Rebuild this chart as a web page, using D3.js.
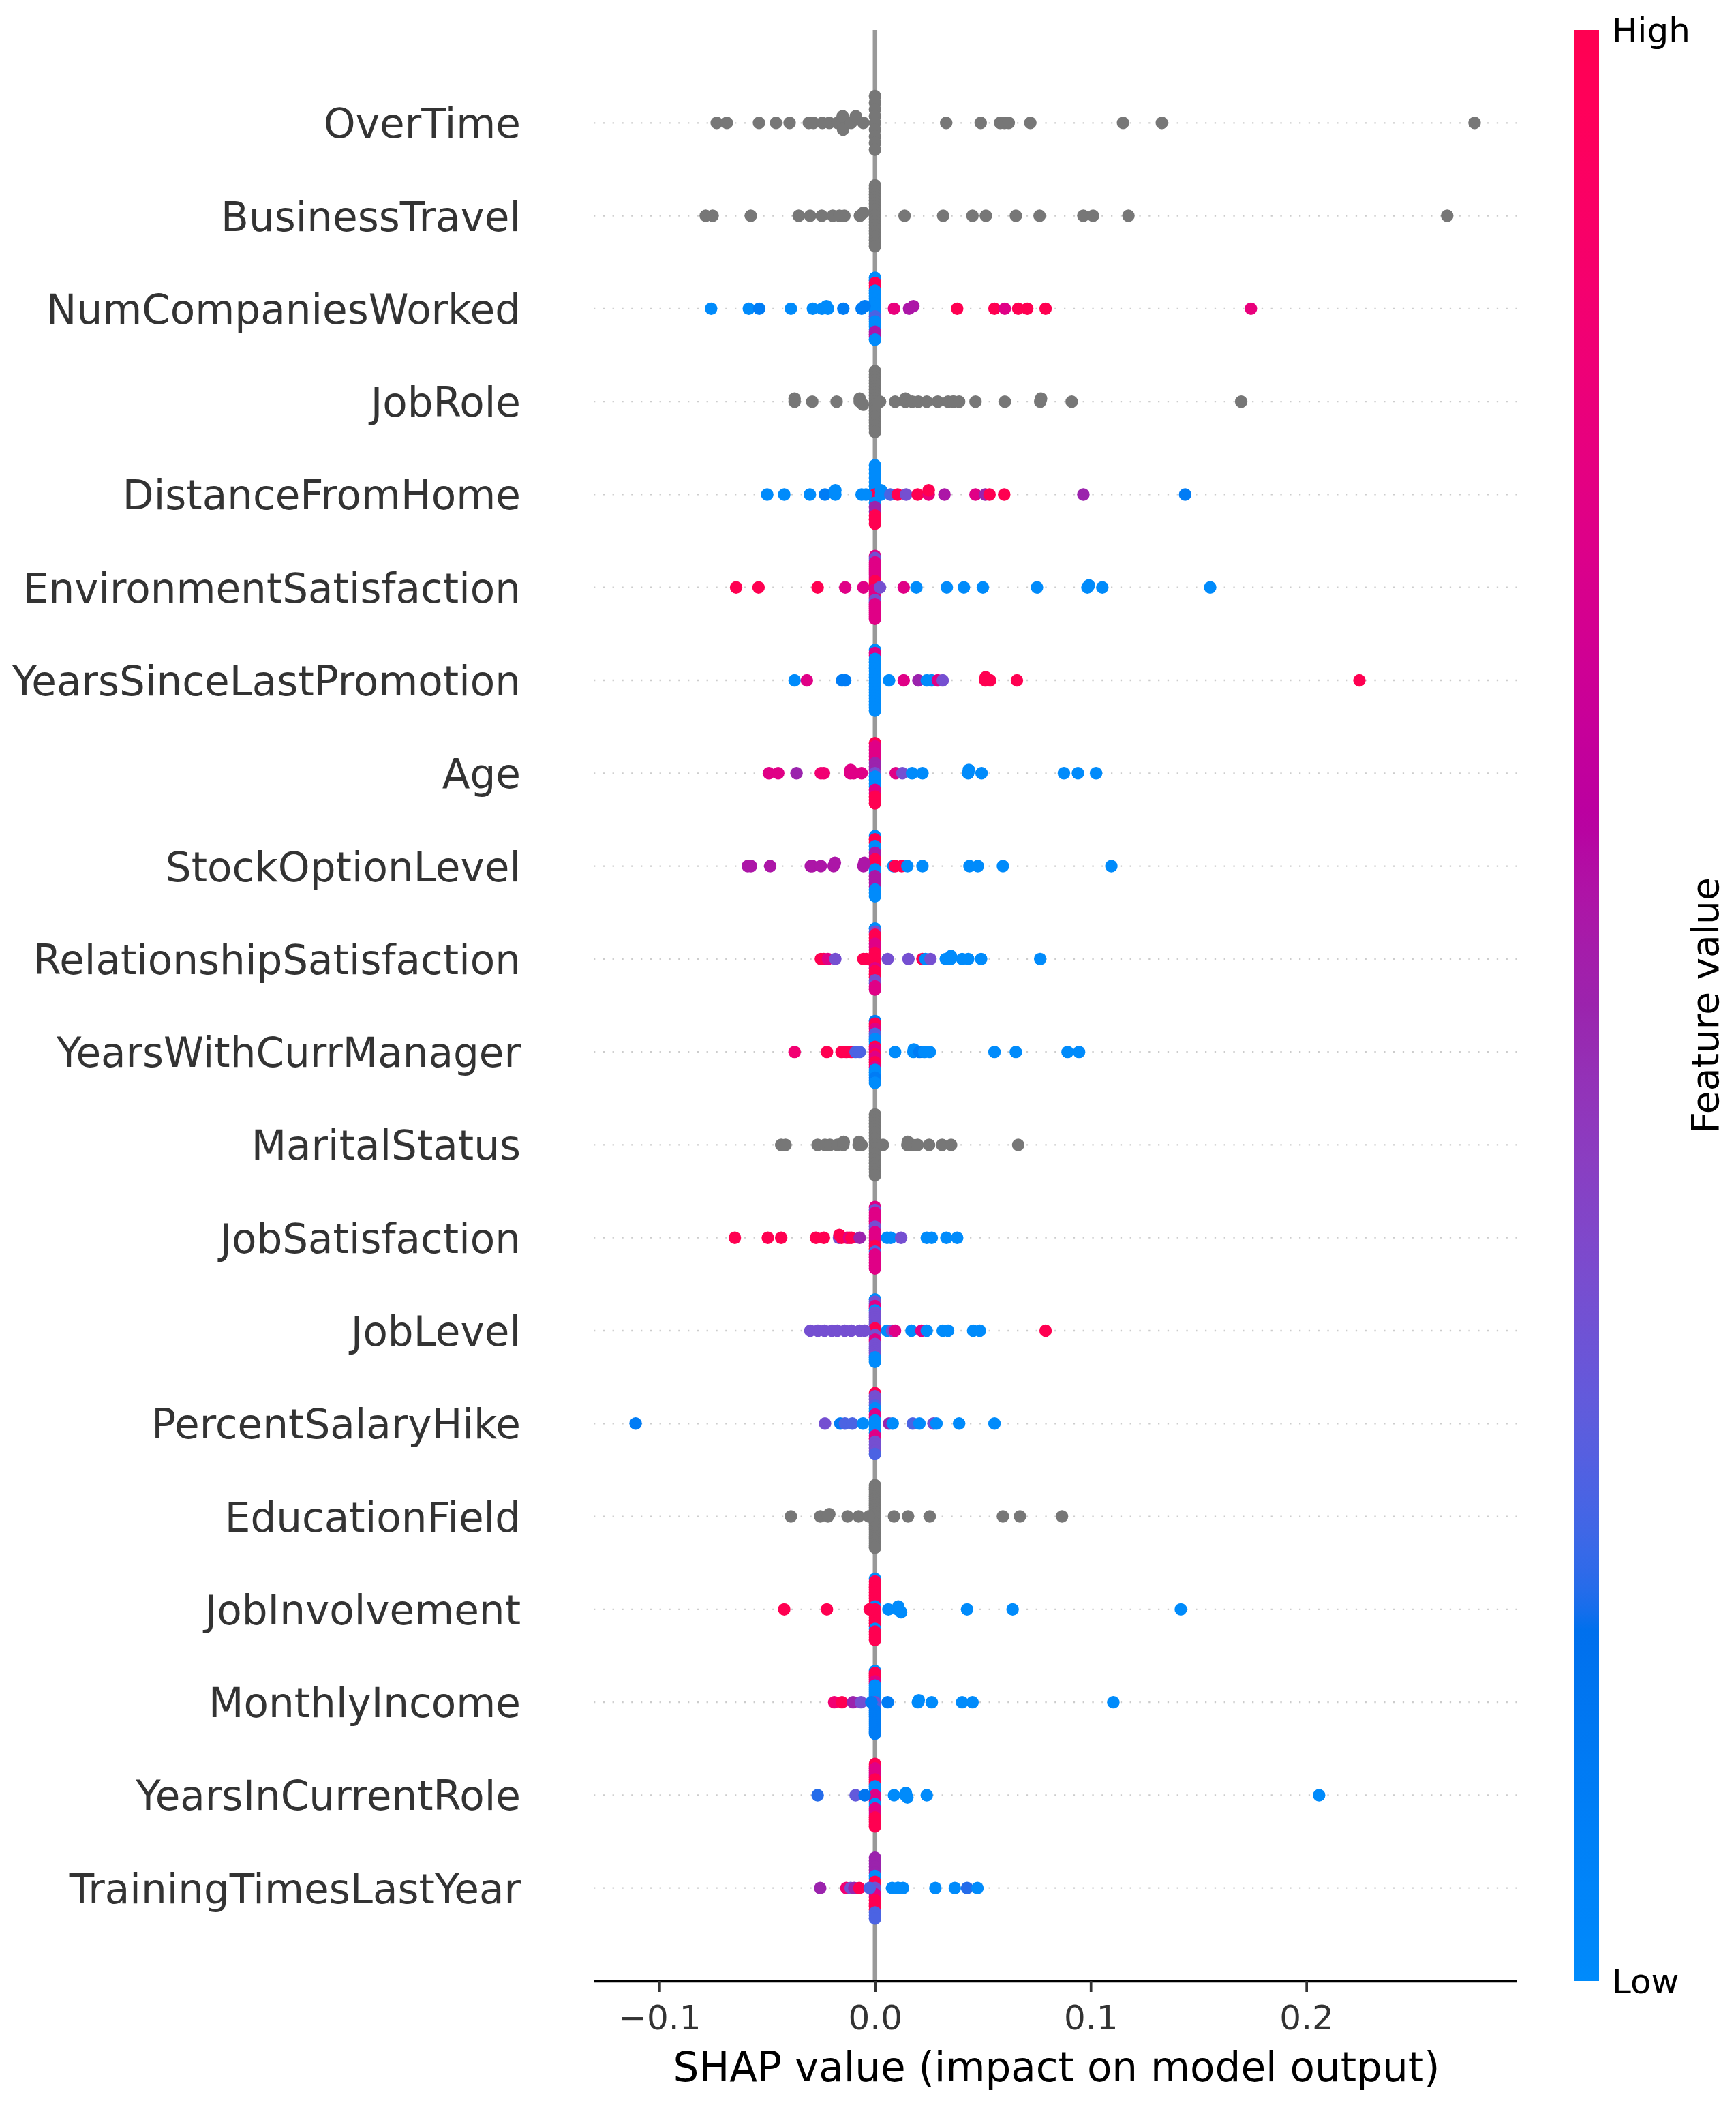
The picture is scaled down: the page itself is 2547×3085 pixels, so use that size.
<!DOCTYPE html>
<html><head><meta charset="utf-8">
<script src="https://cdn.jsdelivr.net/npm/d3@7"></script>
<style>html,body{margin:0;padding:0;background:#fff;} svg{display:block;}</style>
</head><body>
<svg id="chart" width="2547" height="3085"></svg>
<script>
// ---------------- DATA ----------------
const featureNames = ["OverTime","BusinessTravel","NumCompaniesWorked","JobRole","DistanceFromHome",
  "EnvironmentSatisfaction","YearsSinceLastPromotion","Age","StockOptionLevel","RelationshipSatisfaction",
  "YearsWithCurrManager","MaritalStatus","JobSatisfaction","JobLevel","PercentSalaryHike",
  "EducationField","JobInvolvement","MonthlyIncome","YearsInCurrentRole","TrainingTimesLastYear"];

// SHAP values of the points away from zero (per feature, top to bottom)
const shapValues = [
  [-0.0734,-0.0687,-0.0538,-0.0459,-0.0396,-0.0307,-0.0285,-0.0244,-0.0212,-0.0174,-0.0149,-0.0150,-0.0148,-0.0111,-0.0089,-0.0054,0.033,0.049,0.058,0.060,0.062,0.072,0.115,0.133,0.278],
  [-0.0785,-0.0753,-0.0576,-0.0354,-0.0301,-0.0247,-0.0196,-0.0165,-0.0142,-0.0070,-0.0054,0.0137,0.0316,0.0452,0.0514,0.0653,0.0763,0.0966,0.1011,0.1175,0.2653],
  [-0.0760,-0.0585,-0.0537,-0.0390,-0.0288,-0.0246,-0.0225,-0.0218,-0.0147,-0.0062,-0.0048,0.0088,0.0158,0.0178,0.0381,0.0554,0.0602,0.0664,0.0706,0.0791,0.1743],
  [-0.0373,-0.0373,-0.0291,-0.0178,-0.0071,-0.0071,-0.0056,0.0023,0.0093,0.0141,0.0141,0.0172,0.0201,0.0240,0.0291,0.0339,0.0362,0.0365,0.0390,0.0466,0.0602,0.0766,0.0770,0.0912,0.1698],
  [-0.0500,-0.0421,-0.0302,-0.0232,-0.0184,-0.0184,-0.0062,-0.0042,0.0028,0.0028,0.0071,0.0105,0.0144,0.0198,0.0249,0.0249,0.0322,0.0466,0.0511,0.0531,0.0599,0.0966,0.1438],
  [-0.0644,-0.0540,-0.0266,-0.0138,-0.0054,0.0023,0.0133,0.0192,0.0333,0.0412,0.0500,0.0751,0.0985,0.0992,0.1054,0.1554],
  [-0.0373,-0.0316,-0.0153,-0.0138,0.0065,0.0133,0.0201,0.0240,0.0263,0.0291,0.0314,0.0511,0.0513,0.0534,0.0658,0.2246],
  [-0.0492,-0.0449,-0.0364,-0.0251,-0.0237,-0.0115,-0.0113,-0.0099,-0.0062,0.0096,0.0127,0.0172,0.0220,0.0432,0.0435,0.0494,0.0876,0.0941,0.1025],
  [-0.0590,-0.0575,-0.0486,-0.0298,-0.0290,-0.0251,-0.0192,-0.0186,-0.0054,-0.0050,0.0085,0.0093,0.0124,0.0150,0.0220,0.0438,0.0477,0.0593,0.1096],
  [-0.0251,-0.0237,-0.0218,-0.0184,-0.0054,-0.0040,0.0059,0.0155,0.0220,0.0234,0.0257,0.0328,0.0350,0.0352,0.0404,0.0432,0.0492,0.0766],
  [-0.0373,-0.0223,-0.0155,-0.0133,-0.0110,-0.0090,-0.0071,0.0093,0.0178,0.0180,0.0206,0.0229,0.0254,0.0554,0.0653,0.0893,0.0946],
  [-0.0435,-0.0415,-0.0266,-0.0232,-0.0209,-0.0175,-0.0147,-0.0145,-0.0076,-0.0074,-0.0062,0.0037,0.0150,0.0152,0.0172,0.0198,0.0251,0.0311,0.0353,0.0664],
  [-0.0650,-0.0497,-0.0435,-0.0274,-0.0237,-0.0167,-0.0165,-0.0155,-0.0130,-0.0120,-0.0110,-0.0071,0.0056,0.0073,0.0121,0.0240,0.0263,0.0331,0.0381],
  [-0.0300,-0.0265,-0.0234,-0.0200,-0.0175,-0.0140,-0.0110,-0.0071,-0.0048,0.0056,0.0079,0.0093,0.0169,0.0215,0.0240,0.0314,0.0339,0.0455,0.0486,0.0791],
  [-0.1110,-0.0232,-0.0161,-0.0139,-0.0105,-0.0056,0.0065,0.0082,0.0175,0.0206,0.0271,0.0285,0.0390,0.0554],
  [-0.0390,-0.0254,-0.0218,-0.0212,-0.0127,-0.0076,-0.0028,0.0088,0.0153,0.0254,0.0593,0.0672,0.0867],
  [-0.0421,-0.0223,-0.0025,0.0062,0.0105,0.0108,0.0121,0.0427,0.0638,0.1418],
  [-0.0189,-0.0153,-0.0102,-0.0065,-0.0017,0.0059,0.0199,0.0203,0.0263,0.0404,0.0452,0.1105],
  [-0.0266,-0.0090,-0.0048,0.0088,0.0141,0.0143,0.0150,0.0240,0.2059],
  [-0.0254,-0.0133,-0.0113,-0.0096,-0.0073,-0.0025,0.0079,0.0105,0.0108,0.0130,0.0280,0.0370,0.0427,0.0475]
];

// normalised feature values (0 = low / blue, 1 = high / red); null = non-numeric (grey)
const featureValues = [
  null,
  null,
  [0,0,0.1,0,0,0,0,0,0.1,0.1,0.1,0.8,0.55,0.55,1,1,0.75,1,1,1,0.8],
  null,
  [0,0,0,0.1,0,0,0,0,0,0,0.25,1,0.35,1,0.8,1,0.55,0.75,0.5,1,1,0.5,0.1],
  [1,1,1,0.75,0.75,0.35,0.75,0,0,0,0,0,0,0,0,0],
  [0,0.75,0.1,0.1,0,0.75,0.5,0,0,0.75,0.35,1,1,1,1,1],
  [0.75,0.75,0.5,0.85,0.85,0.75,0.75,0.75,0.75,0.75,0.35,0,0,0,0,0,0,0,0],
  [0.55,0.55,0.55,0.55,0.55,0.55,0.55,0.55,0.55,0.55,0,1,1,0,0,0,0,0,0],
  [1,1,0.75,0.35,1,1,0.35,0.35,1,0,0.35,0,0,0,0,0,0,0],
  [0.85,1,1,1,1,0.25,0.25,0,0,0,0.1,0,0,0,0,0,0],
  null,
  [1,1,1,1,1,0.35,1,1,1,0.75,1,0.5,0,0,0.35,0,0,0,0],
  [0.35,0.35,0.35,0.35,0.35,0.35,0.35,0.35,0.35,0,0.35,0.75,0,0.75,0,0,0,0,0,1],
  [0.1,0.35,0.1,0.25,0.25,0,0.5,0,0.25,0,0.35,0,0,0],
  null,
  [1,1,1,0,0,0,0,0,0,0],
  [0.85,1,0.5,0.35,0.1,0.1,0,0,0,0,0,0],
  [0.2,0.3,0.15,0,0,0,0,0,0],
  [0.5,0.85,0.35,0.5,1,0.25,0,0,0,0,0,0,0.2,0]
];

// number of samples whose SHAP value is exactly zero (the stack on the zero line)
const zeroCounts = [9,21,25,21,15,31,21,19,19,21,25,21,23,29,21,29,23,31,29,21];

// feature values of the zero-SHAP stack, listed top to bottom (null = grey feature)
const zeroStackValues = [
  null,
  null,
  [0,0,1,1,1,0,0,0,0,0,0,0,0,0,0,0.25,0.25,0,0,0,0,0.55,0.55,0.55,0],
  null,
  [0,0,0,0,0,0,0,1,1,0,0.5,0.5,1,1,1],
  [0.75,0.35,0.35,0.75,0.75,0.75,0.75,0.75,0.75,0.75,0.75,0.75,1,1,1,1,0.75,0.75,0.75,0.75,0.75,0.35,0.35,0.75,0.75,0.75,0.75,0.75,0.75,0.75,0.75],
  [0,0.75,0.75,0,0,0,0,0,0,0,0,0,0,0,0,0,0,0,0,0,0],
  [1,0.75,0.75,0.75,0.75,0.75,0.5,0.5,0.5,0.35,0,0,0,0,0.75,0.75,1,1,1],
  [0,1,1,0,0,0.55,0.55,1,1,1,0,0,0.55,0.55,0.55,0.55,0,0,0],
  [0,0.35,1,1,1,0.75,0.75,0.75,1,1,1,1,1,0.75,1,1,1,0.35,0.35,0.75,0.75],
  [0.1,1,1,0.75,0.75,0.25,0.25,0,0,0,1,0.75,0.75,1,0.75,0.75,1,1,0.75,0,0,0,0.1,0.1,0],
  null,
  [0.75,0.35,0.75,0.75,0.75,0.75,0.75,0.35,0.35,0.75,0.75,0.75,0.75,0.75,1,1,0.25,0.75,0.75,0.75,0.75,0.75,0.75],
  [0,0.35,0.35,0.75,0.75,0,0.35,0.35,0.35,0.35,0.35,0.35,0.35,1,1,1,0.35,0.35,0.75,0.75,0.35,0.35,0.35,0.35,0.35,0.35,0,0,0],
  [1,0.35,0.35,0.35,0.25,0,0,0.75,0.75,0,0,0,0,0,0.75,0.75,0.35,0.35,0.35,0.35,0.25],
  null,
  [0,1,1,1,1,1,1,1,1,1,0,1,1,1,1,1,1,1,0,1,1,1,1],
  [0,1,1,1,1,0.75,0.75,0,0,0,0,0,0,0,0,0.35,0.35,0.25,0.25,0.1,0.1,0.1,0.1,0.1,0.1,0.1,0.1,0.1,0.1,0.1,0.1],
  [1,1,0.75,0.75,0.75,0.75,0.75,1,1,1,0,0,0,0,0.75,0.75,0.75,0.75,0,0,0.75,0.75,0.75,0.75,1,1,1,1,1],
  [0.5,0.5,0.5,0.5,0.5,0.5,0,0,1,1,0.35,0.35,0.75,0.75,1,1,1,1,0.25,0.25,0.25]
];

const xTicks = [-0.1, 0.0, 0.1, 0.2];
const colorbarTickLabels = ["Low", "High"];
const xLabelText = "SHAP value (impact on model output)";
const colorbarTitle = "Feature value";

// ---------------- LAYOUT ----------------
const FONT = "DejaVu Sans";
const plotL = 871, plotR = 2225, plotT = 44, plotB = 2906;
const dotR = 9.2;
const svg = d3.select("#chart");

const allShap = shapValues.flat().concat([0]);
const [mn, mx] = d3.extent(allShap);
const padX = (mx - mn) * 0.05;
const x = d3.scaleLinear().domain([mn - padX, mx + padX]).range([plotL, plotR]);
const nF = featureNames.length;
const y = d3.scaleLinear().domain([-1, nF]).range([plotB, plotT]);

// shap red_blue colormap (LCH interpolation, D65)
function shapColor(t) {
  const L = t < 0.5 ? 54 + (40 - 54) * (t / 0.5) : 40 + (54 - 40) * ((t - 0.5) / 0.5);
  const C = 70 + (90 - 70) * t;
  const h = 4.6588 + ((0.35470565 + 2 * Math.PI) - 4.6588) * t;
  const a = C * Math.cos(h), b = C * Math.sin(h);
  const fy = (L + 16) / 116, fx = fy + a / 500, fz = fy - b / 200;
  const finv = v => v > 0.206893 ? v * v * v : (v - 16 / 116) / 7.787;
  const X = 0.95047 * finv(fx), Y = finv(fy), Z = 1.08883 * finv(fz);
  let r = 3.2404542 * X - 1.5371385 * Y - 0.4985314 * Z;
  let g = -0.9692660 * X + 1.8760108 * Y + 0.0415560 * Z;
  let bb = 0.0556434 * X - 0.2040259 * Y + 1.0572252 * Z;
  const gam = v => { v = v > 0.0031308 ? 1.055 * Math.pow(v, 1 / 2.4) - 0.055 : 12.92 * v; return Math.max(0, Math.min(1, v)); };
  return d3.rgb(gam(r) * 255, gam(g) * 255, gam(bb) * 255).formatHex();
}

// background guide lines
const gGuides = svg.append("g");
featureNames.forEach((name, i) => {
  const pos = nF - 1 - i;
  gGuides.append("line")
    .attr("x1", plotL).attr("x2", plotR)
    .attr("y1", y(pos)).attr("y2", y(pos))
    .attr("stroke", "#cccccc").attr("stroke-width", 2.3)
    .attr("stroke-dasharray", "2.3 11.5");
});
gGuides.append("line")
  .attr("x1", x(0)).attr("x2", x(0))
  .attr("y1", plotT).attr("y2", plotB)
  .attr("stroke", "#999999").attr("stroke-width", 6.5);

// beeswarm (shap algorithm, deterministic order)
function swarm(vals) {
  const N = vals.length;
  const lo = d3.min(vals), hi = d3.max(vals);
  const quant = vals.map(v => Math.round(100 * (v - lo) / (hi - lo + 1e-8)));
  const inds = d3.range(N).sort((a, b) => (quant[a] - quant[b]) || (a - b));
  const ys = new Array(N).fill(0);
  let layer = 0, last = -1;
  for (const ind of inds) {
    if (quant[ind] !== last) layer = 0;
    ys[ind] = Math.ceil(layer / 2) * ((layer % 2) * 2 - 1);
    layer += 1; last = quant[ind];
  }
  const m = d3.max(ys.map(v => v + 1));
  return ys.map(v => v * 0.9 * 0.4 / m);
}

const gDots = svg.append("g");
featureNames.forEach((name, i) => {
  const pos = nF - 1 - i;
  const stack = zeroStackValues[i];
  const n = stack ? stack.length : zeroCounts[i];
  const k = (n - 1) / 2;
  const pts = [];
  for (let j = 0; j < n; j++) {
    const ysj = Math.ceil(j / 2) * ((j % 2) * 2 - 1);
    const idx = k - ysj;
    pts.push({ s: 0, fv: stack ? stack[idx] : null, order: idx });
  }
  const fvs = featureValues[i];
  shapValues[i].forEach((s, m) => pts.push({ s: s, fv: fvs ? fvs[m] : null, order: n + m }));
  const ys = swarm(pts.map(p => p.s));
  pts.forEach((p, j) => p.dy = ys[j]);
  pts.sort((a, b) => a.order - b.order);
  gDots.selectAll(null).data(pts).enter().append("circle")
    .attr("cx", d => x(d.s))
    .attr("cy", d => y(pos + d.dy))
    .attr("r", dotR)
    .attr("fill", d => d.fv === null ? "#777777" : shapColor(d.fv));
});

// feature names
const gNames = svg.append("g");
featureNames.forEach((name, i) => {
  const pos = nF - 1 - i;
  gNames.append("text")
    .attr("x", 764).attr("y", y(pos) + 22)
    .attr("text-anchor", "end")
    .attr("font-family", FONT).attr("font-size", 59.6)
    .attr("fill", "#333333")
    .text(name);
});

// x axis
const xAxis = d3.axisBottom(x).tickValues(xTicks).tickFormat(d3.format(".1f"))
  .tickSize(16).tickSizeOuter(0).tickPadding(19);
const gAx = svg.append("g").attr("transform", `translate(0,${plotB})`).call(xAxis);
gAx.attr("font-family", FONT).attr("font-size", 50);
gAx.select(".domain").attr("stroke", "#000").attr("stroke-width", 3.7);
gAx.selectAll(".tick line").attr("stroke", "#333333").attr("stroke-width", 3.7);
gAx.selectAll(".tick text").attr("fill", "#333333");

svg.append("text")
  .attr("x", (plotL + plotR) / 2 + 2).attr("y", 3053)
  .attr("text-anchor", "middle")
  .attr("font-family", FONT).attr("font-size", 59.6).attr("fill", "#000")
  .text(xLabelText);

// colorbar
const defs = svg.append("defs");
const grad = defs.append("linearGradient").attr("id", "cbGrad")
  .attr("x1", 0).attr("y1", 1).attr("x2", 0).attr("y2", 0);
d3.range(0, 101).forEach(s => {
  grad.append("stop").attr("offset", (s / 100)).attr("stop-color", shapColor(s / 100));
});
const cbScale = d3.scaleLinear().domain([0, 1]).range([plotB, plotT]);
svg.append("rect")
  .attr("x", 2310).attr("y", cbScale(1))
  .attr("width", 36).attr("height", cbScale(0) - cbScale(1))
  .attr("fill", "url(#cbGrad)");
colorbarTickLabels.forEach((lab, j) => {
  svg.append("text")
    .attr("x", 2365).attr("y", cbScale(j) + 18)
    .attr("font-family", FONT).attr("font-size", 50).attr("fill", "#000")
    .text(lab);
});
svg.append("text")
  .attr("transform", `translate(2521,${(plotT + plotB) / 2}) rotate(-90)`)
  .attr("text-anchor", "middle")
  .attr("font-family", FONT).attr("font-size", 55).attr("fill", "#000")
  .text(colorbarTitle);
</script>
</body></html>
